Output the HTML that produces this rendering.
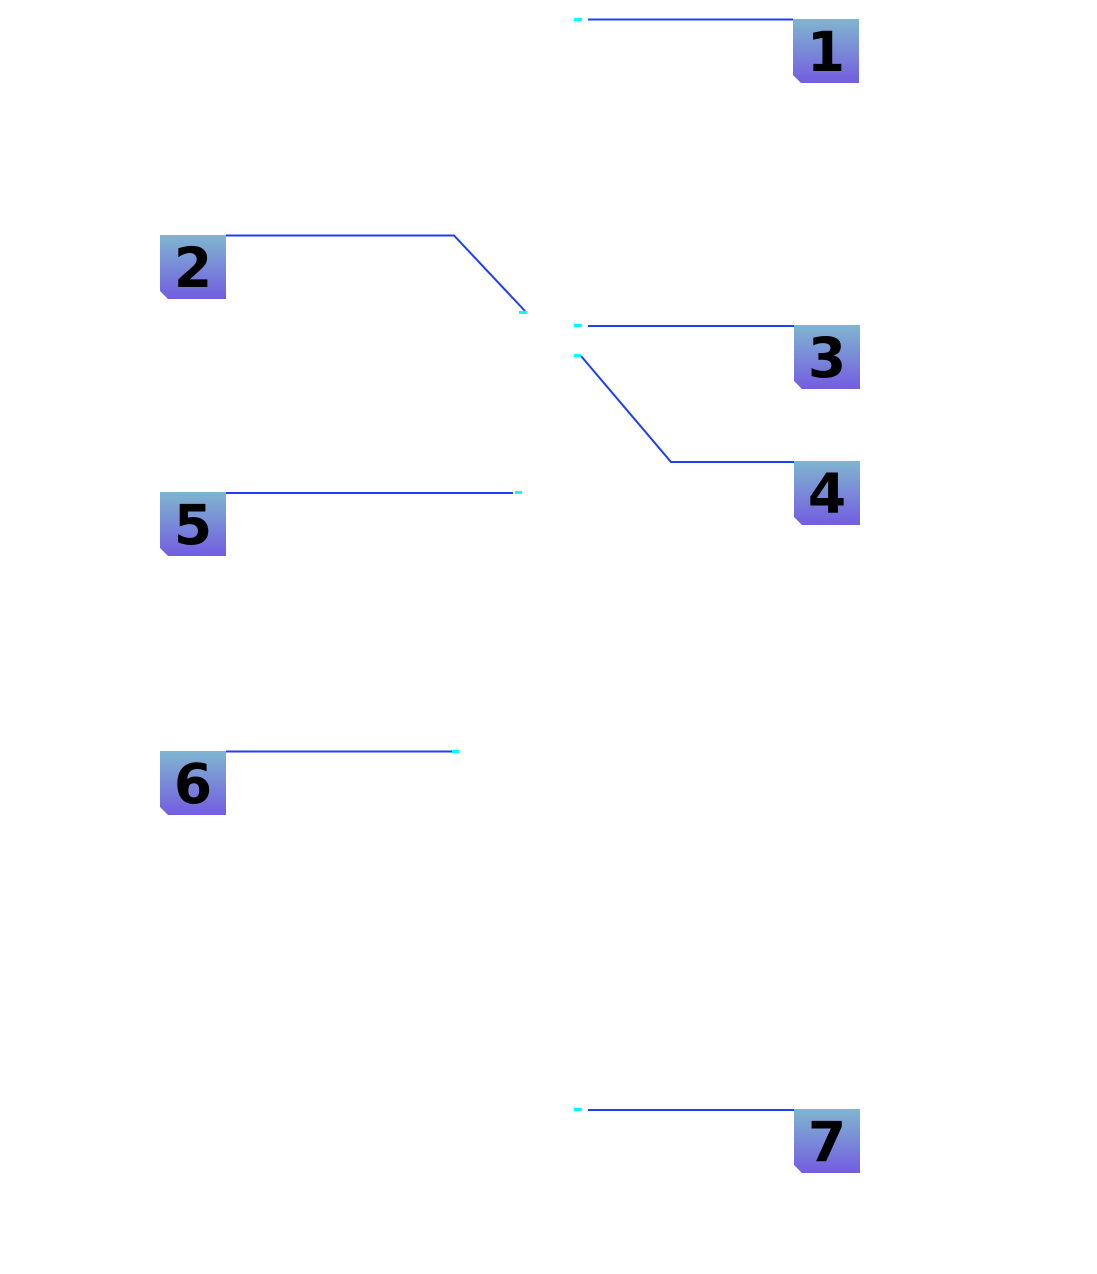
<!DOCTYPE html>
<html><head><meta charset="utf-8"><style>
html,body{margin:0;padding:0;background:#fff;}
svg{display:block}
text{font-family:"DejaVu Sans","Liberation Sans",sans-serif;font-weight:bold;font-size:55px;fill:#000;text-anchor:middle}
</style></head><body>
<svg width="1097" height="1274" viewBox="0 0 1097 1274" xmlns="http://www.w3.org/2000/svg">
<defs>
<linearGradient id="g" x1="0" y1="0" x2="0" y2="1">
<stop offset="0" stop-color="#7fb6d0"/><stop offset="1" stop-color="#735de0"/>
</linearGradient>
<symbol id="b" overflow="visible">
<path d="M0 0H66V64H8L0 56Z" fill="url(#g)"/>
</symbol>
</defs>
<g stroke="#1f3ff0" stroke-width="2" fill="none">
<path d="M588 19.5H793"/>
<path d="M226 235.5H454L525 311"/>
<path d="M588 326H794"/>
<path d="M581 356L671 462H794"/>
<path d="M226 493H513"/>
<path d="M226 751.5H454"/>
<path d="M588 1110H794"/>
</g>
<g fill="#00ffff">
<rect x="574" y="18" width="8" height="3"/>
<rect x="519" y="311" width="8" height="3"/>
<rect x="574" y="324" width="8" height="3"/>
<rect x="574" y="354" width="7" height="3"/>
<rect x="515" y="491" width="7" height="3"/>
<rect x="452" y="750" width="7" height="3"/>
<rect x="574" y="1108" width="8" height="3"/>
</g>
<use href="#b" x="793" y="19"/><text x="826" y="71">1</text>
<use href="#b" x="160" y="235"/><text x="193" y="287">2</text>
<use href="#b" x="794" y="325"/><text x="827" y="377">3</text>
<use href="#b" x="794" y="461"/><text x="827" y="513">4</text>
<use href="#b" x="160" y="492"/><text x="193" y="544">5</text>
<use href="#b" x="160" y="751"/><text x="193" y="803">6</text>
<use href="#b" x="794" y="1109"/><text x="827" y="1161">7</text>
</svg>
</body></html>
